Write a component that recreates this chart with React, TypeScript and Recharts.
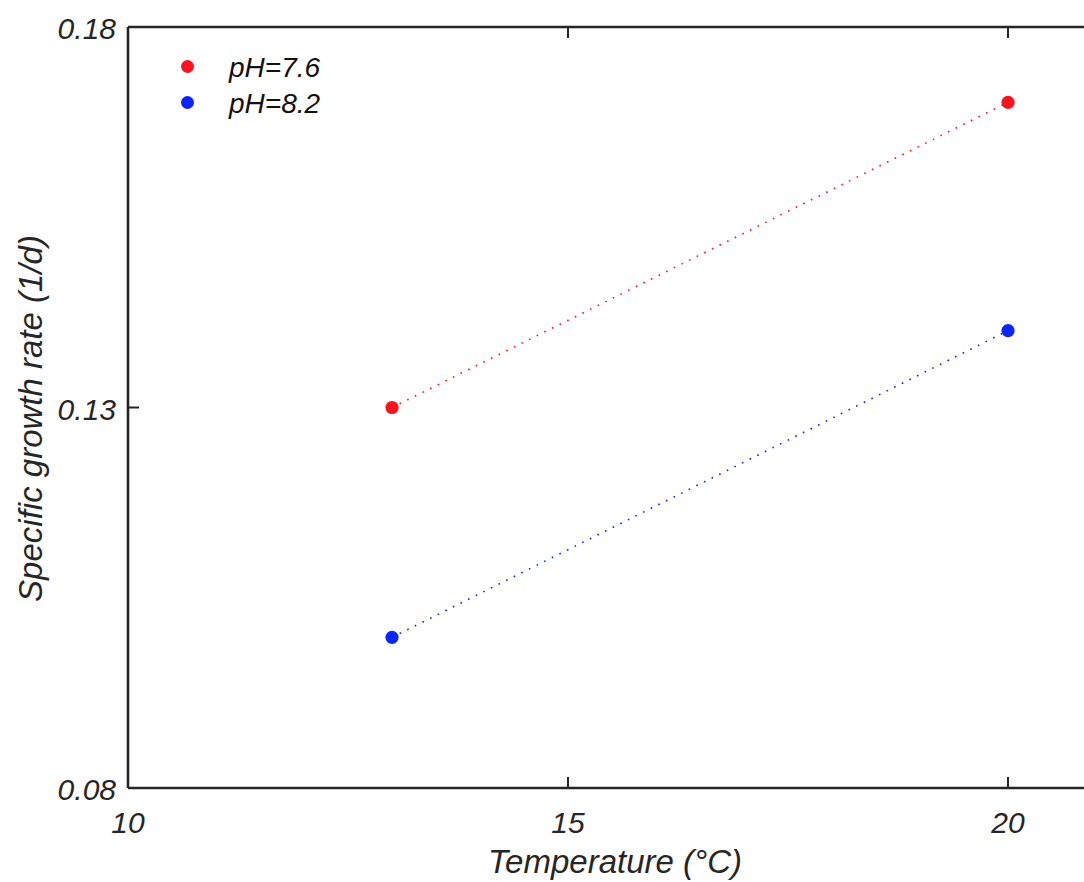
import { LineChart, Line, XAxis, YAxis, Legend } from 'recharts'

const temperatures = [13, 20]
const ph76Rates = [0.13, 0.1701]
const ph82Rates = [0.0998, 0.1401]
const xTicks = [10, 15, 20]
const yTicks = [0.08, 0.13, 0.18]

const series = [
  { key: 'ph76', name: 'pH=7.6', color: '#FE121E' },
  { key: 'ph82', name: 'pH=8.2', color: '#0A24FE' },
]

const data = temperatures.map((t, i) => ({ t, ph76: ph76Rates[i], ph82: ph82Rates[i] }))

const FONT = '"Liberation Sans", Arial, Helvetica, sans-serif'
const AXIS = '#262626'
const TICK_LEN = 11

const BottomTick = ({ x, y, payload }: any) => (
  <g>
    <line x1={x} x2={x} y1={y} y2={y - TICK_LEN} stroke={AXIS} strokeWidth={2} />
    <text x={x} y={y + 45} textAnchor="middle" fontSize={30} fontStyle="italic" fontFamily={FONT} fill={AXIS}>
      {payload.value}
    </text>
  </g>
)

const TopTick = ({ x, y }: any) => (
  <line x1={x} x2={x} y1={y} y2={y + TICK_LEN} stroke={AXIS} strokeWidth={2} />
)

const LeftTick = ({ x, y, payload }: any) => (
  <g>
    <line x1={x} x2={x + TICK_LEN} y1={y} y2={y} stroke={AXIS} strokeWidth={2} />
    <text x={x - 12} y={y + 12} textAnchor="end" fontSize={30} fontStyle="italic" fontFamily={FONT} fill={AXIS}>
      {Number(payload.value).toFixed(2)}
    </text>
  </g>
)

const RightTick = ({ x, y }: any) => (
  <line x1={x} x2={x - TICK_LEN} y1={y} y2={y} stroke={AXIS} strokeWidth={2} />
)

function LegendBox() {
  return (
    <div style={{ fontFamily: FONT, fontStyle: 'italic', fontSize: 28, color: '#111' }}>
      {series.map((s) => (
        <div key={s.key} style={{ display: 'flex', alignItems: 'center', height: 36 }}>
          <span
            style={{
              display: 'inline-block', width: 13, height: 13, borderRadius: '50%',
              background: s.color, marginRight: 35,
            }}
          />
          <span style={{ lineHeight: '36px', marginTop: 4 }}>{s.name}</span>
        </div>
      ))}
    </div>
  )
}

export default function App() {
  return (
    <div
      style={{
        position: 'absolute', left: 0, top: 0, width: 1084, height: 882,
        overflow: 'hidden', background: '#fff',
      }}
    >
      <LineChart width={1150} height={882} data={data} margin={{ top: 26, right: 0, bottom: 0, left: 0 }}>
        <XAxis
          dataKey="t"
          type="number"
          domain={[10, 21]}
          ticks={xTicks}
          allowDataOverflow
          height={94}
          stroke={AXIS}
          strokeWidth={2.6}
          tickSize={0}
          tickMargin={0}
          tickLine={false}
          tick={<BottomTick />}
          label={{
            content: ({ viewBox }: any) => (
              <text
                x={viewBox.x + viewBox.width / 2 + 3}
                y={viewBox.y + 85}
                textAnchor="middle"
                fontSize={33}
                fontStyle="italic"
                fontFamily={FONT}
                fill={AXIS}
              >
                Temperature (°C)
              </text>
            ),
          }}
        />
        <XAxis
          xAxisId="top"
          orientation="top"
          dataKey="t"
          type="number"
          domain={[10, 21]}
          ticks={xTicks}
          allowDataOverflow
          height={1}
          stroke={AXIS}
          strokeWidth={2.6}
          tickSize={0}
          tickMargin={0}
          tickLine={false}
          tick={<TopTick />}
        />
        <YAxis
          type="number"
          domain={[0.08, 0.18]}
          ticks={yTicks}
          allowDataOverflow
          width={128}
          stroke={AXIS}
          strokeWidth={2.6}
          tickSize={0}
          tickMargin={0}
          tickLine={false}
          tick={<LeftTick />}
          label={{
            content: ({ viewBox }: any) => (
              <text
                transform={`translate(${viewBox.x + 42}, ${viewBox.y + viewBox.height / 2 + 11}) rotate(-90)`}
                textAnchor="middle"
                fontSize={33}
                fontStyle="italic"
                fontFamily={FONT}
                fill={AXIS}
              >
                Specific growth rate (1/d)
              </text>
            ),
          }}
        />
        <YAxis
          yAxisId="right"
          orientation="right"
          type="number"
          domain={[0.08, 0.18]}
          ticks={yTicks}
          allowDataOverflow
          width={54}
          stroke={AXIS}
          strokeWidth={2.6}
          tickSize={0}
          tickMargin={0}
          tickLine={false}
          tick={<RightTick />}
        />
        <Legend
          layout="horizontal"
          verticalAlign="middle"
          align="center"
          content={() => <LegendBox />}
          wrapperStyle={{ position: 'absolute', left: 181, top: 48, width: 'auto', height: 'auto' }}
        />
        {series.map((s) => (
          <Line
            key={s.key}
            dataKey={s.key}
            name={s.name}
            stroke={s.color}
            strokeWidth={1.6}
            strokeDasharray="1.6 6.9"
            dot={{ r: 6.6, fill: s.color, stroke: 'none' }}
            activeDot={false}
            isAnimationActive={false}
          />
        ))}
      </LineChart>
    </div>
  )
}
